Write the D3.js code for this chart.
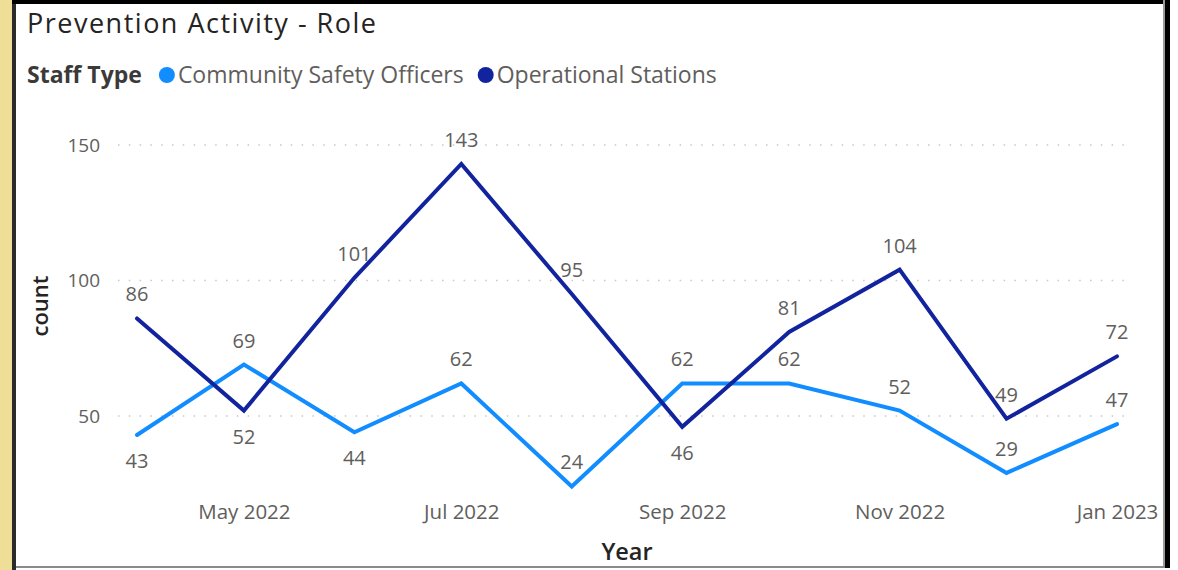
<!DOCTYPE html>
<html>
<head>
<meta charset="utf-8">
<script src="https://cdn.jsdelivr.net/npm/d3@7"></script>
<style>
  html, body { margin: 0; padding: 0; background: #ffffff; }
  svg { display: block; }
  text { font-family: "Open Sans", "Noto Sans", sans-serif; }
</style>
</head>
<body>
<svg id="chart" width="1178" height="570"></svg>
<script>
// ---- data ----
const months = ["2022-04", "2022-05", "2022-06", "2022-07", "2022-08", "2022-09", "2022-10", "2022-11", "2022-12", "2023-01"];
const communitySafetyOfficers = [43, 69, 44, 62, 24, 62, 62, 52, 29, 47];
const operationalStations = [86, 52, 101, 143, 95, 46, 81, 104, 49, 72];
const seriesNames = ["Community Safety Officers", "Operational Stations"];
const yTicks = [50, 100, 150];
const xTickMonths = ["2022-05", "2022-07", "2022-09", "2022-11", "2023-01"];
// which data labels sit below their point (by index), as in the reference
const labelsBelow = { cso: [0, 2], ops: [1, 5] };

const parse = d3.timeParse("%Y-%m");
const fmt = d3.timeFormat("%b %Y");
const colors = ["#118DFF", "#12239E"];

const svg = d3.select("#chart");
const W = 1178, H = 570;

// frame decorations
svg.append("rect").attr("x", 0).attr("y", 0).attr("width", 12).attr("height", H).attr("fill", "#EFDE97");
svg.append("rect").attr("x", 12).attr("y", 0).attr("width", 4).attr("height", H).attr("fill", "#2b2b2b");
svg.append("rect").attr("x", 12).attr("y", 0).attr("width", 1158).attr("height", 4).attr("fill", "#000");
svg.append("rect").attr("x", 1163).attr("y", 0).attr("width", 2).attr("height", 568).attr("fill", "#9a9a9a");
svg.append("rect").attr("x", 1165).attr("y", 0).attr("width", 5).attr("height", 568).attr("fill", "#000");
svg.append("rect").attr("x", 16).attr("y", 566).attr("width", 1149).attr("height", 2).attr("fill", "#8a8a8a");

// title
svg.append("text").attr("x", 27).attr("y", 33)
  .attr("font-size", 27).attr("fill", "#252423")
  .attr("textLength", 349).attr("lengthAdjust", "spacing")
  .text("Prevention Activity - Role");

// legend
const lg = svg.append("g");
const lgY = 83;
const st = lg.append("text").attr("x", 27).attr("y", lgY).attr("font-size", 23)
  .attr("font-weight", 700).attr("fill", "#3b3a39").text("Staff Type");
let lx = 27 + st.node().getComputedTextLength() + 17;
seriesNames.forEach((name, i) => {
  lg.append("circle").attr("cx", lx + 8).attr("cy", lgY - 8).attr("r", 8).attr("fill", colors[i]);
  const t = lg.append("text").attr("x", lx + 19).attr("y", lgY).attr("font-size", 23)
    .attr("fill", "#605E5C").text(name);
  lx += 19 + t.node().getComputedTextLength() + 14;
});

// scales
const x = d3.scaleTime()
  .domain([parse(months[0]), parse(months[months.length - 1])])
  .range([137, 1117]);
const y = d3.scaleLinear().domain([50, 150]).range([416, 145]);

// grid
const grid = svg.append("g");
grid.selectAll("line").data(yTicks).join("line")
  .attr("x1", 118).attr("x2", 1132)
  .attr("y1", d => y(d)).attr("y2", d => y(d))
  .attr("stroke", "#c8c8c8").attr("stroke-width", 1.5)
  .attr("stroke-dasharray", "1.5,9.3");

// y axis
const yAxis = svg.append("g").attr("transform", "translate(100,0)")
  .call(d3.axisLeft(y).tickValues(yTicks).tickSize(0).tickPadding(0));
yAxis.select(".domain").remove();
yAxis.selectAll("text").attr("font-size", 19).attr("fill", "#605E5C")
  .attr("font-family", "Open Sans, sans-serif");

// x axis
const xAxis = svg.append("g").attr("transform", "translate(0,504)")
  .call(d3.axisBottom(x).tickValues(xTickMonths.map(parse)).tickFormat(fmt).tickSize(0).tickPadding(0));
xAxis.select(".domain").remove();
xAxis.selectAll("text").attr("font-size", 20.5).attr("fill", "#605E5C")
  .attr("font-family", "Open Sans, sans-serif").attr("dy", "0.71em");

// axis titles
svg.append("text").attr("x", 627).attr("y", 560).attr("text-anchor", "middle")
  .attr("font-size", 23.5).attr("font-weight", 600).attr("fill", "#252423").text("Year");
svg.append("text").attr("transform", "translate(48,306) rotate(-90)").attr("text-anchor", "middle")
  .attr("font-size", 22).attr("font-weight", 600).attr("fill", "#252423").text("count");

// lines
const series = [
  { key: "cso", values: communitySafetyOfficers, color: colors[0] },
  { key: "ops", values: operationalStations, color: colors[1] }
];
const line = d3.line().x(d => x(d.date)).y(d => y(d.v));
series.forEach(s => {
  const pts = s.values.map((v, i) => ({ date: parse(months[i]), v, i }));
  svg.append("path").datum(pts).attr("d", line)
    .attr("fill", "none").attr("stroke", s.color).attr("stroke-width", 4)
    .attr("stroke-linejoin", "miter").attr("stroke-linecap", "round");
  s.pts = pts;
});

// data labels
series.forEach(s => {
  svg.append("g").selectAll("text").data(s.pts).join("text")
    .attr("x", d => x(d.date))
    .attr("y", d => labelsBelow[s.key].includes(d.i) ? y(d.v) + 33 : y(d.v) - 17)
    .attr("text-anchor", "middle").attr("font-size", 20).attr("fill", "#605E5C")
    .text(d => d.v);
});
</script>
</body>
</html>
